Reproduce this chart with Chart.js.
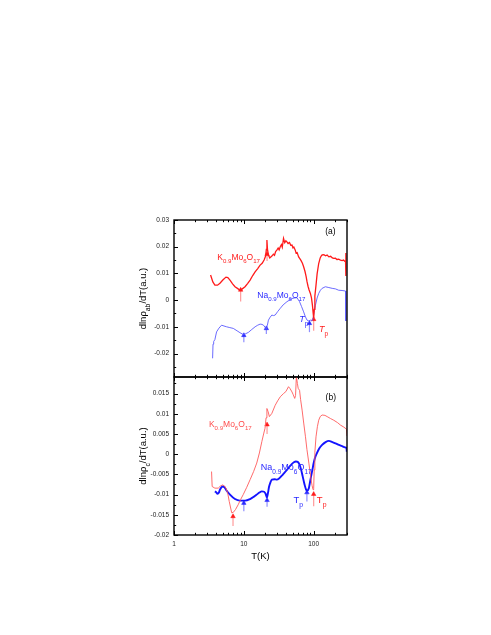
<!DOCTYPE html>
<html>
<head>
<meta charset="utf-8">
<script src="https://cdn.jsdelivr.net/npm/chart.js@4"></script>
<style>
    body { margin: 0; background: #fff; }
    #wrap { position: relative; width: 491px; height: 635px; }
    canvas { position: absolute; left: 0; top: 0; }
</style>
</head>
<body>
<div id="wrap">
    <canvas id="chart-a" width="491" height="635"></canvas>
    <canvas id="chart-b" width="491" height="635"></canvas>
</div>
<script>
// Panel (a): dln(rho_ab)/dT
const T_RED_A = [3.34, 3.6, 3.85, 4.2, 4.55, 5.0, 5.55, 5.9, 6.33, 6.9, 7.47, 8.1, 8.8, 9.5, 10.4, 11.3, 12.3, 13.4, 14.5, 15.8, 17.1, 18.3, 19.5, 20.5, 21.0, 21.4, 21.8, 22.5, 23.5, 25.2, 26.5, 27.5, 28.5, 29.7, 31, 32, 33.2, 34.5, 35.5, 37, 38.5, 40, 41.4, 43, 45, 47, 48.9, 50.5, 52, 54.5, 56, 58, 60.9, 63, 66, 69, 71.8, 75, 78, 80.3, 83, 86, 89.7, 93, 96, 98, 100, 102, 104, 108, 112, 118, 124, 128, 132, 140, 148, 156, 165, 175, 185, 194, 205, 215, 228, 242, 255, 268, 280, 286, 288, 290];
const V_RED_A = [0.0094, 0.0068, 0.0056, 0.0056, 0.0063, 0.0075, 0.0086, 0.0084, 0.0075, 0.0061, 0.005, 0.0044, 0.0037, 0.0042, 0.005, 0.0062, 0.0075, 0.0092, 0.0106, 0.0118, 0.0131, 0.0138, 0.015, 0.0165, 0.019, 0.0225, 0.019, 0.0169, 0.0158, 0.0165, 0.0172, 0.0168, 0.0182, 0.0187, 0.0195, 0.0188, 0.02, 0.0208, 0.0198, 0.0231, 0.0215, 0.0222, 0.0218, 0.0212, 0.0216, 0.0205, 0.0206, 0.0196, 0.0199, 0.0187, 0.0176, 0.0178, 0.0162, 0.0156, 0.0148, 0.0138, 0.0125, 0.0108, 0.0088, 0.0069, 0.0052, 0.0038, 0.0025, 0.0008, -0.002, -0.0045, -0.0068, -0.0035, 0.0015, 0.0056, 0.0098, 0.0137, 0.0158, 0.0165, 0.0169, 0.017, 0.0166, 0.0169, 0.0162, 0.0164, 0.0158, 0.0156, 0.0157, 0.0152, 0.0153, 0.015, 0.0148, 0.015, 0.0145, 0.0144, 0.0176, 0.009];

const T_BLUE_A = [3.57, 3.62, 3.7, 3.85, 4.07, 4.4, 4.8, 5.2, 5.67, 6.3, 7.06, 8.0, 8.8, 9.8, 10.6, 11.6, 13, 14.5, 15.8, 17.1, 18.2, 19.1, 20.2, 20.9, 21.7, 22.5, 23.8, 25.2, 26.5, 28.1, 30.5, 33.2, 36.5, 41.4, 45, 48.9, 53, 57.6, 62.8, 67, 71.8, 76, 80.3, 85, 89.7, 94, 98, 102, 106, 112, 118, 125, 132, 147, 165, 184, 205, 228, 255, 286, 289];
const V_BLUE_A = [-0.0218, -0.0165, -0.0155, -0.0148, -0.0119, -0.0105, -0.0094, -0.0097, -0.01, -0.0103, -0.0106, -0.0115, -0.0122, -0.0129, -0.0126, -0.0121, -0.011, -0.01, -0.0094, -0.009, -0.0091, -0.0094, -0.0102, -0.0109, -0.0095, -0.0075, -0.0064, -0.0056, -0.0058, -0.0056, -0.0043, -0.0031, -0.0018, -0.0006, 0.0, 0.0006, 0.0008, 0.0009, -0.0006, -0.0024, -0.0044, -0.0062, -0.0075, -0.0078, -0.0075, -0.0078, -0.0069, -0.004, -0.0019, 0.0008, 0.0025, 0.0037, 0.0044, 0.005, 0.0047, 0.0044, 0.0042, 0.0037, 0.0036, 0.0034, -0.0078];

// Panel (b): dln(rho_c)/dT
const T_RED_B = [3.45, 3.52, 3.85, 4.3, 4.6, 4.97, 5.3, 5.55, 5.9, 6.18, 6.7, 7.06, 7.6, 8.3, 9.0, 9.8, 11, 12.3, 13.8, 15.3, 16.7, 18.1, 19.2, 20.1, 20.8, 21.4, 22.3, 23.2, 25.2, 28.1, 30.5, 33.2, 37, 40, 43.6, 46, 48.9, 51, 53.5, 55, 56.5, 57.5, 58.5, 60, 62.8, 65, 68.3, 72, 76.3, 80, 85.3, 91.8, 95, 98, 100, 101.7, 104, 108, 113, 118, 124, 132, 145, 156, 175, 194, 220, 242, 270, 295, 300];
const V_RED_B = [-0.0043, -0.008, -0.0084, -0.0084, -0.0079, -0.0076, -0.0079, -0.0084, -0.0098, -0.0117, -0.0145, -0.0144, -0.0137, -0.0125, -0.0112, -0.01, -0.0082, -0.0063, -0.0043, -0.0022, 0.0003, 0.0031, 0.005, 0.0064, 0.009, 0.0113, 0.0105, 0.0093, 0.0101, 0.0121, 0.0132, 0.0142, 0.015, 0.0155, 0.0167, 0.0162, 0.0154, 0.0147, 0.0138, 0.0145, 0.0192, 0.0192, 0.0175, 0.0163, 0.0158, 0.0135, 0.0109, 0.0077, 0.0043, 0.0012, -0.0022, -0.0063, -0.0078, -0.0088, -0.0085, -0.0039, 0.0005, 0.0043, 0.0068, 0.0084, 0.0093, 0.0097, 0.0096, 0.0093, 0.0088, 0.0084, 0.0078, 0.0072, 0.0067, 0.0062, 0.0045];

const T_BLUE_B = [3.85, 4.0, 4.2, 4.4, 4.55, 4.97, 5.3, 5.55, 6.33, 7.47, 8.8, 10.4, 12.3, 14, 15.3, 16.7, 18.1, 19.5, 20.5, 21.4, 22.2, 23, 24, 25.2, 27.5, 29.7, 32, 35, 38, 41.4, 45, 48.9, 52, 55.7, 59, 62.8, 66, 69.6, 74, 78, 81, 85.3, 88, 91.8, 96, 100, 105, 111, 120, 132, 148, 165, 185, 205, 230, 255, 280, 295, 298];
const V_BLUE_B = [-0.0092, -0.0094, -0.0098, -0.0095, -0.0088, -0.008, -0.0082, -0.0088, -0.01, -0.0111, -0.0115, -0.0115, -0.0111, -0.0105, -0.01, -0.0095, -0.0092, -0.0093, -0.0098, -0.0107, -0.0095, -0.008, -0.007, -0.0063, -0.0062, -0.0063, -0.006, -0.0053, -0.0046, -0.0039, -0.0031, -0.0024, -0.002, -0.0018, -0.0019, -0.0026, -0.0038, -0.0055, -0.0075, -0.0088, -0.009, -0.0084, -0.0072, -0.0055, -0.0038, -0.0022, -0.0008, 0.0002, 0.0014, 0.0023, 0.003, 0.0033, 0.003, 0.0027, 0.0023, 0.002, 0.0017, 0.0015, 0.0006];

// Arrows: temperature, tail value, tip value
const ARROW_T_RED_A = [9, 21.5, 100];
const ARROW_TAIL_RED_A = [-0.0005, 0.0146, -0.0115];
const ARROW_TIP_RED_A = [0.0038, 0.0172, -0.0072];
const ARROW_T_BLUE_A = [10, 21, 87];
const ARROW_TAIL_BLUE_A = [-0.0158, -0.0127, -0.012];
const ARROW_TIP_BLUE_A = [-0.0132, -0.0106, -0.0087];
const ARROW_T_RED_B = [7, 21.5, 100];
const ARROW_TAIL_RED_B = [-0.0178, 0.005, -0.0129];
const ARROW_TIP_RED_B = [-0.0154, 0.0073, -0.0099];
const ARROW_T_BLUE_B = [10, 21.5, 80];
const ARROW_TAIL_BLUE_B = [-0.0141, -0.013, -0.0117];
const ARROW_TIP_BLUE_B = [-0.0121, -0.0114, -0.0095];

// Axes
const X_MIN = 1, X_MAX = 300;
const X_LABELS = [1, 10, 100];
const X_MINOR = [2, 3, 4, 5, 6, 7, 8, 9, 20, 30, 40, 50, 60, 70, 80, 90, 200, 300];
const Y_TICKS_A = [-0.02, -0.01, 0, 0.01, 0.02, 0.03];
const Y_MINOR_A = [-0.025, -0.015, -0.005, 0.005, 0.015, 0.025];
const Y_TICKS_B = [-0.02, -0.015, -0.01, -0.005, 0, 0.005, 0.01, 0.015];
const Y_MINOR_B = [-0.0175, -0.0125, -0.0075, -0.0025, 0.0025, 0.0075, 0.0125, 0.0175];

const FONT = 'Arial, "Liberation Sans", sans-serif';

function toPoints(ts, vs) {
    return ts.map((t, i) => ({ x: t, y: vs[i] }));
}

function fmtTick(v) {
    if (Math.abs(v) < 1e-9) return '0';
    return parseFloat(v.toFixed(4)).toString();
}

// Build arrow datasets (line + triangle head)
function arrowSets(ts, tails, tips, lineColor, headColor) {
    return ts.map((t, i) => ({
        data: [{ x: t, y: tails[i] }, { x: t, y: tips[i] }],
        borderColor: lineColor,
        borderWidth: 1.2,
        pointRadius: [0, 2.6],
        pointStyle: 'triangle',
        pointBackgroundColor: headColor,
        pointBorderColor: headColor,
        pointBorderWidth: 0.5,
    }));
}

// Draw a string made of normal / subscript / italic parts
function drawRich(ctx, x, y, parts, size, color) {
    ctx.fillStyle = color;
    ctx.textBaseline = 'alphabetic';
    ctx.textAlign = 'left';
    let cx = x;
    parts.forEach(([str, kind]) => {
        let fs = size, dy = 0, style = '';
        if (kind === 's') { fs = size * 0.72; dy = size * 0.42; }
        if (kind === 'i') { style = 'italic '; }
        ctx.font = style + fs + 'px ' + FONT;
        ctx.fillText(str, cx, y + dy);
        cx += ctx.measureText(str).width;
    });
    return cx - x;
}

function measureRich(ctx, parts, size) {
    let w = 0;
    parts.forEach(([str, kind]) => {
        let fs = kind === 's' ? size * 0.72 : size;
        ctx.font = (kind === 'i' ? 'italic ' : '') + fs + 'px ' + FONT;
        w += ctx.measureText(str).width;
    });
    return w;
}

// Frame, inward ticks, annotations
const decorPlugin = {
    id: 'decor',
    afterDraw(chart, args, opts) {
        const { ctx, chartArea: a, scales } = chart;
        const xs = scales.x, ys = scales.y;
        ctx.save();
        ctx.strokeStyle = '#000';
        ctx.lineWidth = 1;
        ctx.beginPath();
        const tickX = (t, len) => {
            const px = Math.round(xs.getPixelForValue(t)) + 0.5;
            ctx.moveTo(px, a.top); ctx.lineTo(px, a.top + len);
            ctx.moveTo(px, a.bottom); ctx.lineTo(px, a.bottom - len);
        };
        X_LABELS.forEach(t => tickX(t, 4));
        X_MINOR.forEach(t => tickX(t, 2.2));
        const tickY = (v, len) => {
            const py = Math.round(ys.getPixelForValue(v)) + 0.5;
            ctx.moveTo(a.left, py); ctx.lineTo(a.left + len, py);
        };
        opts.yMajor.forEach(v => tickY(v, 4));
        opts.yMinor.forEach(v => { if (v > ys.min && v < ys.max) tickY(v, 2.2); });
        ctx.stroke();

        ctx.lineWidth = 1.4;
        ctx.strokeRect(a.left, a.top, a.right - a.left, a.bottom - a.top);

        // text labels anchored in data coordinates
        opts.labels.forEach(l => {
            const px = xs.getPixelForValue(l.t);
            const py = ys.getPixelForValue(l.v);
            drawRich(ctx, px, py, l.parts, l.size || 8.5, l.color);
        });

        // rotated y title
        const tp = opts.yTitle;
        const w = measureRich(ctx, tp, 9.5);
        ctx.save();
        ctx.translate(146, (a.top + a.bottom) / 2);
        ctx.rotate(-Math.PI / 2);
        drawRich(ctx, -w / 2, 0, tp, 9.5, '#000');
        ctx.restore();

        if (opts.xTitle) {
            ctx.font = '9.5px ' + FONT;
            ctx.fillStyle = '#000';
            ctx.textAlign = 'center';
            ctx.fillText(opts.xTitle, (a.left + a.right) / 2, 559);
        }
        ctx.restore();
    }
};

function yScale(min, max, ticks) {
    return {
        min: min,
        max: max,
        afterFit: s => { s.width = 174; },
        afterBuildTicks: s => { s.ticks = ticks.map(v => ({ value: v })); },
        grid: { display: false, drawTicks: false },
        border: { display: false },
        ticks: {
            padding: 5,
            autoSkip: false,
            color: '#222',
            font: { size: 6.5, family: FONT },
            callback: v => fmtTick(v)
        }
    };
}

const RED = '#ff1a1a';
const BLUE = '#2a2aff';

// Panel (a)
new Chart(document.getElementById('chart-a'), {
    type: 'line',
    data: {
        datasets: [
            { data: toPoints(T_RED_A, V_RED_A), borderColor: RED, borderWidth: 1.3, pointRadius: 0 },
            { data: toPoints(T_BLUE_A, V_BLUE_A), borderColor: '#5a5aff', borderWidth: 0.9, pointRadius: 0 },
            ...arrowSets(ARROW_T_RED_A, ARROW_TAIL_RED_A, ARROW_TIP_RED_A, '#ff9a9a', RED),
            ...arrowSets(ARROW_T_BLUE_A, ARROW_TAIL_BLUE_A, ARROW_TIP_BLUE_A, '#8f8fff', BLUE),
        ]
    },
    options: {
        responsive: false,
        animation: false,
        events: [],
        layout: { padding: { left: 0, top: 220, right: 144, bottom: 258 } },
        plugins: {
            legend: { display: false },
            tooltip: { enabled: false },
            decor: {
                yMajor: Y_TICKS_A,
                yMinor: Y_MINOR_A,
                yTitle: [['dln\u03c1', 'n'], ['ab', 's'], ['/dT(a.u.)', 'n']],
                labels: [
                    { t: 4.16, v: 0.0151, color: RED, parts: [['K', 'n'], ['0.9', 's'], ['Mo', 'n'], ['6', 's'], ['O', 'n'], ['17', 's']] },
                    { t: 15.6, v: 0.0009, color: BLUE, parts: [['Na', 'n'], ['0.9', 's'], ['Mo', 'n'], ['6', 's'], ['O', 'n'], ['17', 's']] },
                    { t: 62, v: -0.0083, color: BLUE, size: 9, parts: [['T', 'i'], ['p', 's']] },
                    { t: 119, v: -0.012, color: RED, size: 9, parts: [['T', 'i'], ['p', 's']] },
                    { t: 146, v: 0.0247, color: '#000', size: 8.5, parts: [['(a)', 'n']] },
                ]
            }
        },
        scales: {
            x: { type: 'logarithmic', min: X_MIN, max: X_MAX, display: false },
            y: yScale(-0.0288, 0.03, Y_TICKS_A)
        }
    },
    plugins: [decorPlugin]
});

// Panel (b)
new Chart(document.getElementById('chart-b'), {
    type: 'line',
    data: {
        datasets: [
            { data: toPoints(T_RED_B, V_RED_B), borderColor: '#ff5a5a', borderWidth: 0.9, pointRadius: 0 },
            { data: toPoints(T_BLUE_B, V_BLUE_B), borderColor: '#1414ff', borderWidth: 1.9, pointRadius: 0, cubicInterpolationMode: 'monotone' },
            ...arrowSets(ARROW_T_RED_B, ARROW_TAIL_RED_B, ARROW_TIP_RED_B, '#ff9a9a', RED),
            ...arrowSets(ARROW_T_BLUE_B, ARROW_TAIL_BLUE_B, ARROW_TIP_BLUE_B, '#8f8fff', BLUE),
        ]
    },
    options: {
        responsive: false,
        animation: false,
        events: [],
        layout: { padding: { left: 0, top: 377, right: 144, bottom: 80 } },
        plugins: {
            legend: { display: false },
            tooltip: { enabled: false },
            decor: {
                yMajor: Y_TICKS_B,
                yMinor: Y_MINOR_B,
                yTitle: [['dln\u03c1', 'n'], ['c', 's'], ['/dT(a.u.)', 'n']],
                xTitle: 'T(K)',
                labels: [
                    { t: 3.16, v: 0.0068, color: '#ff4a4a', parts: [['K', 'n'], ['0.9', 's'], ['Mo', 'n'], ['6', 's'], ['O', 'n'], ['17', 's']] },
                    { t: 17.5, v: -0.004, color: BLUE, size: 9, parts: [['Na', 'n'], ['0.9', 's'], ['Mo', 'n'], ['6', 's'], ['O', 'n'], ['17', 's']] },
                    { t: 51.5, v: -0.0121, color: BLUE, size: 9.5, parts: [['T', 'n'], ['p', 's']] },
                    { t: 111, v: -0.0121, color: RED, size: 9.5, parts: [['T', 'n'], ['p', 's']] },
                    { t: 148, v: 0.0133, color: '#000', size: 8.5, parts: [['(b)', 'n']] },
                ]
            }
        },
        scales: {
            x: {
                type: 'logarithmic',
                min: X_MIN,
                max: X_MAX,
                afterFit: s => { s.height = 20; },
                afterBuildTicks: s => { s.ticks = X_LABELS.map(v => ({ value: v })); },
                grid: { display: false, drawTicks: false },
                border: { display: false },
                ticks: {
                    padding: 5,
                    autoSkip: false,
                    maxRotation: 0,
                    color: '#222',
                    font: { size: 6.5, family: FONT },
                    callback: v => String(v)
                }
            },
            y: yScale(-0.02, 0.0191, Y_TICKS_B)
        }
    },
    plugins: [decorPlugin]
});
</script>
</body>
</html>
